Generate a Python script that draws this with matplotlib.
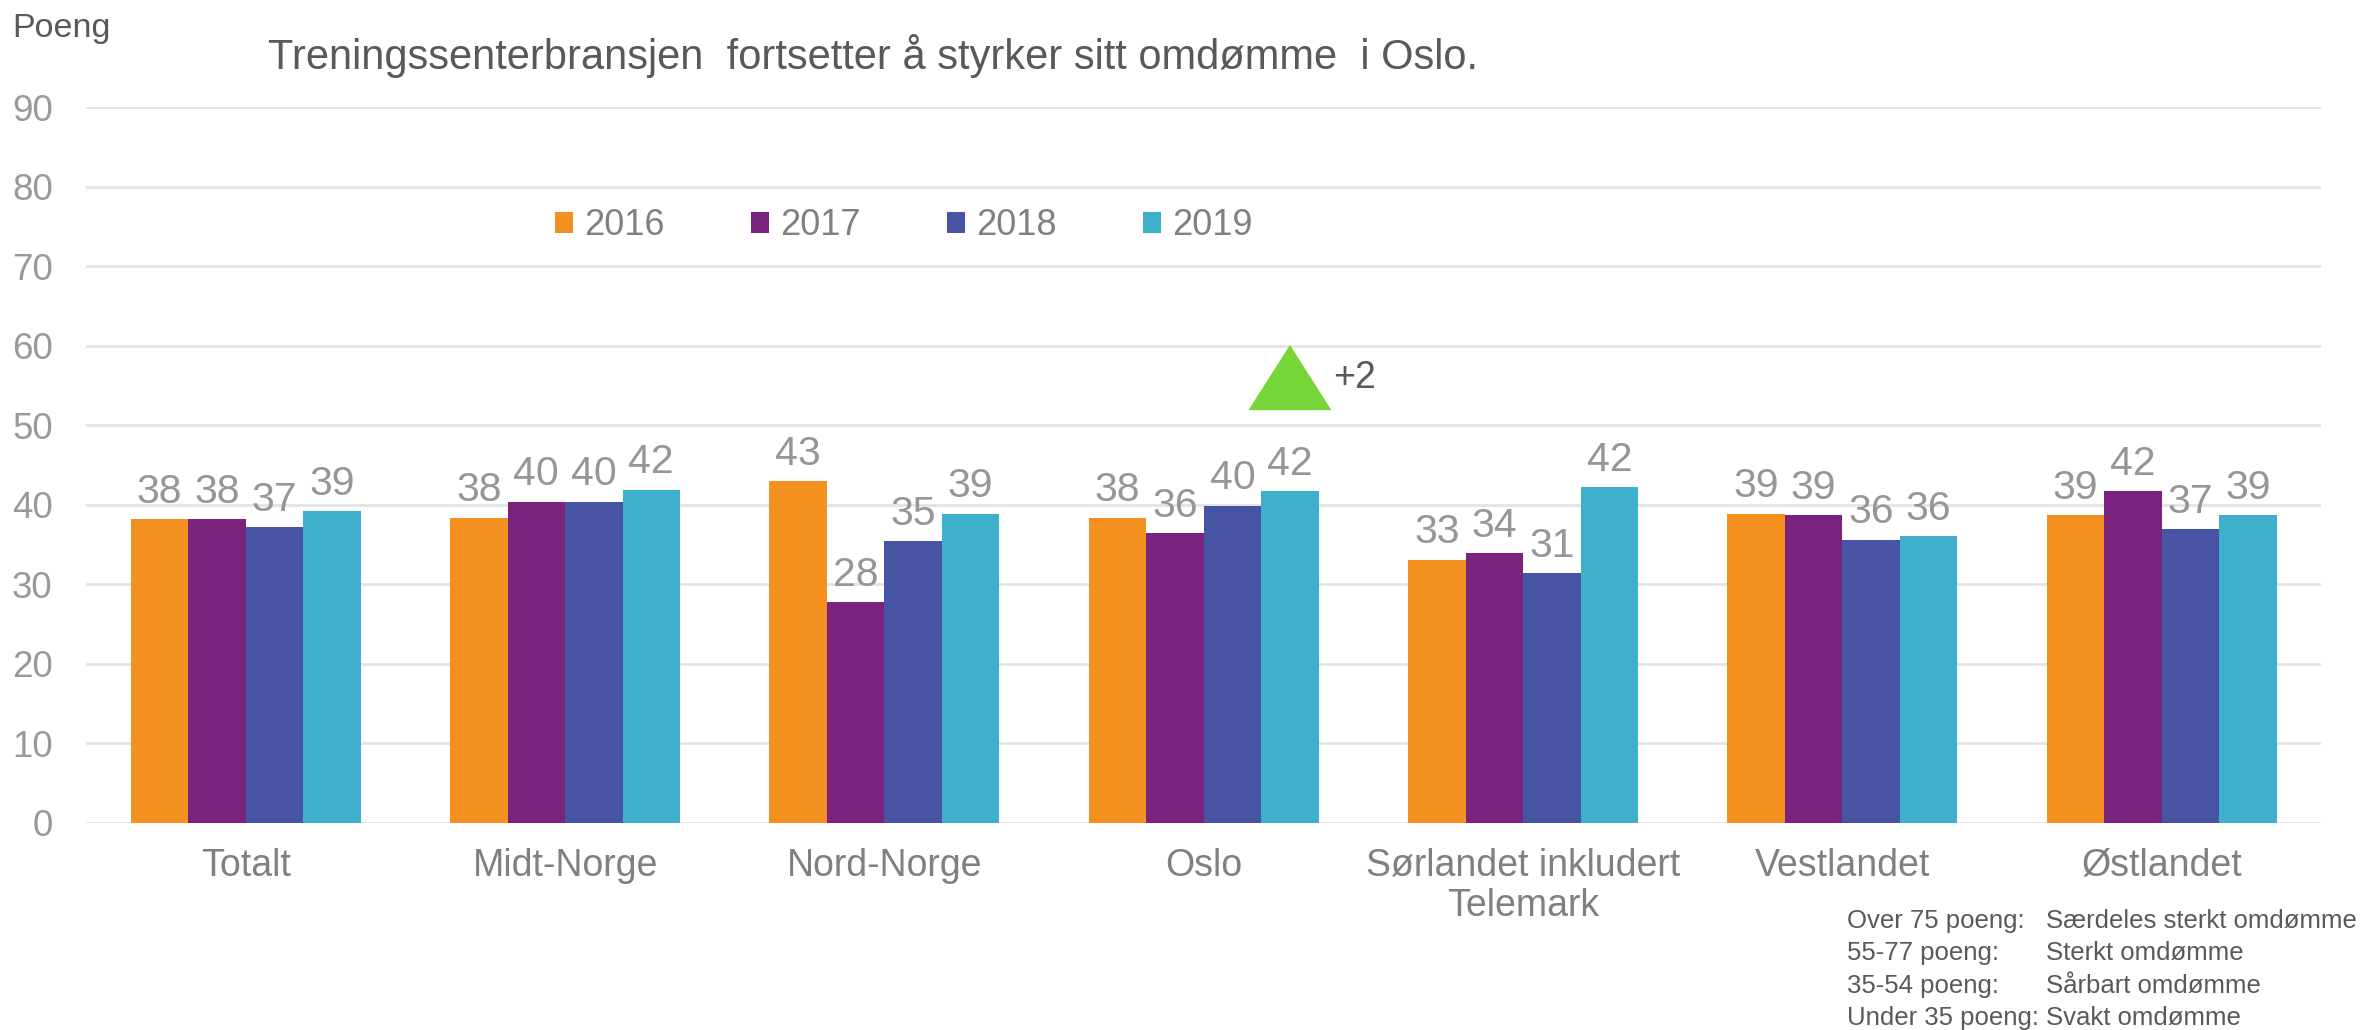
import numpy as np
import matplotlib
matplotlib.use("Agg")
import matplotlib.pyplot as plt
from matplotlib.patches import Polygon

plt.rcParams["font.family"] = ["Liberation Sans", "DejaVu Sans"]

# Data
regions = ["Totalt", "Midt-Norge", "Nord-Norge", "Oslo",
           "Sørlandet inkludert\nTelemark", "Vestlandet", "Østlandet"]
years = ["2016", "2017", "2018", "2019"]
v2016 = [38.2, 38.4, 43.0, 38.4, 33.1, 38.9, 38.7]
v2017 = [38.2, 40.4, 27.8, 36.4, 33.9, 38.7, 41.7]
v2018 = [37.2, 40.4, 35.4, 39.9, 31.4, 35.6, 36.9]
v2019 = [39.2, 41.9, 38.9, 41.7, 42.2, 36.1, 38.7]
colors = ["#F39020", "#7A237E", "#4754A4", "#3EB0CC"]

legend_text = [("Over 75 poeng:", "Særdeles sterkt omdømme"),
               ("55-77 poeng:", "Sterkt omdømme"),
               ("35-54 poeng:", "Sårbart omdømme"),
               ("Under 35 poeng:", "Svakt omdømme")]

fig = plt.figure(figsize=(23.64, 10.30), dpi=100)
ax = fig.add_axes([0.0364, 0.201, 0.9456, 0.695])

x = np.arange(len(regions))
width = 0.18
series = [v2016, v2017, v2018, v2019]
for i, (vals, year, col) in enumerate(zip(series, years, colors)):
    bars = ax.bar(x + (i - 1.5) * width, vals, width, color=col, label=year)
    ax.bar_label(bars, labels=[f"{v:.0f}" for v in vals], padding=6,
                 fontsize=29.5, color="#969696")

# green "up" marker over Oslo 2019
ox = x[3] + 1.5 * width
tri = Polygon([[ox - 0.13, 51.9], [ox + 0.13, 51.9], [ox, 60.1]],
              closed=True, color="#77D63A", lw=0)
ax.add_patch(tri)
ax.text(ox + 0.135, 56, "+2", fontsize=27, color="#595959", va="center")

ax.set_xlim(-0.5, len(regions) - 0.5)
ax.set_ylim(0, 90)
ax.set_yticks(range(0, 91, 10))
ax.set_xticks(x)
ax.set_xticklabels(regions, fontsize=27, color="#808080", linespacing=1.15)
ax.tick_params(axis="y", length=0, pad=24, labelsize=26.5, labelcolor="#999999")
ax.tick_params(axis="x", length=0, pad=18)
ax.yaxis.grid(True, color="#E3E3E3", linewidth=2)
ax.set_axisbelow(True)
for s in ax.spines.values():
    s.set_visible(False)

ax.legend(ncol=4, loc="center left", bbox_to_anchor=(0.2348, 0.7806),
          bbox_transform=fig.transFigure, frameon=False, fontsize=26,
          handlelength=0.5, handleheight=0.5, handletextpad=0.3,
          columnspacing=2.4, borderpad=0, borderaxespad=0,
          labelcolor="#808080")

fig.text(12 / 2364, 1 - 28 / 1030, "Poeng", fontsize=24.5, color="#595959",
         va="center", ha="left")
fig.text(268 / 2364, 1 - 56 / 1030,
         "Treningssenterbransjen  fortsetter å styrker sitt omdømme  i Oslo.",
         fontsize=30, color="#595959", va="center", ha="left")

for k, (a, b) in enumerate(legend_text):
    yy = 1 - (921 + 32.3 * k) / 1030
    fig.text(1847 / 2364, yy, a, fontsize=18.5, color="#595959", va="center")
    fig.text(2046 / 2364, yy, b, fontsize=18.5, color="#595959", va="center")

fig.savefig("out.png", dpi=100)
